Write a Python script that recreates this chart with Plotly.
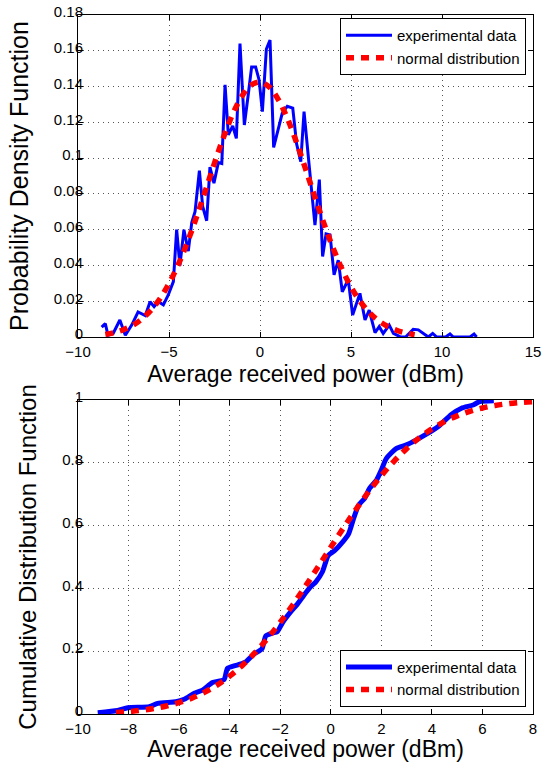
import plotly.graph_objects as go

# ---------------- data ----------------
# Top panel: probability density function
pdf_exp_x = [-8.7, -8.5, -8.35, -8.07, -7.7, -7.4, -7.05, -6.7, -6.3, -6.04, -5.82, -5.59,
             -5.31, -5.04, -4.76, -4.58, -4.4, -4.18, -3.94, -3.75, -3.57, -3.33, -3.15,
             -2.93, -2.75, -2.53, -2.29, -2.1, -1.92, -1.74, -1.5, -1.3, -1.1, -0.86, -0.64,
             -0.46, -0.24, -0.05, 0.13, 0.35, 0.55, 0.75, 1.22, 1.5, 1.8, 2.01, 2.24, 2.42,
             2.71, 2.84, 3.02, 3.26, 3.44, 3.63, 3.85, 4.07, 4.3, 4.52, 4.85, 5.09, 5.49,
             5.77, 6.0, 6.32, 6.55, 6.77, 7.1, 7.33, 7.69, 8.0, 8.42, 8.7, 8.97, 9.25, 9.49,
             9.71, 10.2, 10.44, 10.62, 11.54, 11.76, 11.9]
pdf_exp_y = [0.0055, 0.0075, 0.001, 0.002, 0.0095, 0.001, 0.0067, 0.014, 0.012, 0.0197, 0.017,
             0.0197, 0.018, 0.0235, 0.031, 0.060, 0.040, 0.060, 0.048, 0.064, 0.070, 0.093,
             0.073, 0.065, 0.095, 0.086, 0.0975, 0.097, 0.141, 0.113, 0.118, 0.111, 0.164,
             0.1185, 0.136, 0.151, 0.151, 0.1437, 0.126, 0.161, 0.166, 0.106, 0.125, 0.129,
             0.128, 0.108, 0.098, 0.126, 0.095, 0.082, 0.0626, 0.088, 0.045, 0.0576, 0.057,
             0.0347, 0.043, 0.0253, 0.032, 0.0123, 0.0244, 0.0095, 0.015, 0.0024, 0.0058,
             0.002, 0.0067, 0.002, 0.0002, 0.0, 0.0043, 0.004, 0.002, 0.0, 0.002, 0.0, 0.0,
             0.0017, 0.0, 0.0, 0.0017, 0.0]

pdf_norm_x = [-8.5, -8, -7.5, -7, -6.5, -6, -5.5, -5, -4.5, -4, -3.5, -3, -2.5, -2, -1.5, -1,
              -0.5, 0, 0.5, 1, 1.5, 2, 2.5, 3, 3.5, 4, 4.5, 5, 5.5, 6, 6.5, 7, 7.5, 8, 8.5]
pdf_norm_y = [0.0015, 0.0025, 0.0041, 0.0065, 0.0100, 0.0149, 0.0214, 0.0299, 0.0403, 0.0527,
              0.0667, 0.0818, 0.0972, 0.1118, 0.1246, 0.1345, 0.1407, 0.1425, 0.1398, 0.1328,
              0.1223, 0.1090, 0.0941, 0.0787, 0.0638, 0.0501, 0.0381, 0.0280, 0.0200, 0.0138,
              0.0092, 0.0060, 0.0038, 0.0023, 0.0013]

# Bottom panel: cumulative distribution function
cdf_exp_x = [-9.22, -8.43, -8.03, -7.18, -6.85, -6.13, -5.8, -5.4, -5.07, -4.68, -4.22, -4.09,
             -3.83, -3.4, -3.05, -2.72, -2.57, -2.3, -2.12, -1.9, -1.58, -1.32, -1.05, -0.8,
             -0.59, -0.33, -0.1, 0.15, 0.43, 0.7, 0.9, 1.1, 1.34, 1.54, 1.81, 2.0, 2.2, 2.6,
             2.99, 3.39, 3.78, 4.24, 4.77, 5.17, 5.63, 5.89, 6.45]
cdf_exp_y = [0.004, 0.011, 0.02, 0.023, 0.034, 0.039, 0.047, 0.066, 0.076, 0.10, 0.11, 0.145,
             0.153, 0.164, 0.19, 0.208, 0.249, 0.258, 0.262, 0.292, 0.326, 0.35, 0.38, 0.405,
             0.421, 0.453, 0.505, 0.52, 0.544, 0.573, 0.622, 0.665, 0.687, 0.719, 0.745, 0.777,
             0.814, 0.846, 0.857, 0.873, 0.891, 0.915, 0.954, 0.974, 0.984, 0.995, 0.998]

cdf_norm_x = [-8.5, -8, -7.5, -7, -6.5, -6, -5.5, -5, -4.5, -4, -3.5, -3, -2.5, -2, -1.5, -1,
              -0.5, 0, 0.5, 1, 1.5, 2, 2.5, 3, 3.5, 4, 4.5, 5, 5.5, 6, 6.5, 7, 7.5, 8]
cdf_norm_y = [0.0050, 0.0077, 0.0117, 0.0175, 0.0254, 0.0362, 0.0504, 0.0689, 0.0921, 0.1206,
              0.1548, 0.1951, 0.2410, 0.2922, 0.3479, 0.4074, 0.4689, 0.5311, 0.5926, 0.6521,
              0.7078, 0.7590, 0.8049, 0.8452, 0.8794, 0.9079, 0.9311, 0.9496, 0.9638, 0.9746,
              0.9825, 0.9883, 0.9923, 0.9950]

x_title = "Average received power (dBm)"
y_title_top = "Probability Density Function"
y_title_bottom = "Cumulative Distribution Function"
name_exp = "experimental data"
name_norm = "normal distribution"

# ---------------- figure ----------------
FONT = "Liberation Sans, Arial, Helvetica, sans-serif"
BLUE = "#0000FF"
RED = "#FF0000"
DASH = "8px,7px"

fig = go.Figure()
fig.add_trace(go.Scatter(x=pdf_exp_x, y=pdf_exp_y, mode="lines", name=name_exp,
                         line=dict(color=BLUE, width=3), xaxis="x", yaxis="y", legend="legend"))
fig.add_trace(go.Scatter(x=pdf_norm_x, y=pdf_norm_y, mode="lines", name=name_norm,
                         line=dict(color=RED, width=5.5, dash=DASH, shape="spline"),
                         xaxis="x", yaxis="y", legend="legend"))
fig.add_trace(go.Scatter(x=cdf_exp_x, y=cdf_exp_y, mode="lines", name=name_exp,
                         line=dict(color=BLUE, width=5, shape="spline", smoothing=0.6),
                         xaxis="x2", yaxis="y2", legend="legend2"))
fig.add_trace(go.Scatter(x=cdf_norm_x, y=cdf_norm_y, mode="lines", name=name_norm,
                         line=dict(color=RED, width=5.5, dash=DASH, shape="spline"),
                         xaxis="x2", yaxis="y2", legend="legend2"))

axis_common = dict(
    showline=True, linecolor="black", linewidth=1, mirror="ticks",
    ticks="inside", ticklen=5, tickcolor="black", automargin=False,
    showgrid=True, gridcolor="#555555", gridwidth=1, griddash="1px,4px",
    zeroline=False, tickfont=dict(family=FONT, size=15, color="black"),
)
x_common = dict(ticklabelstandoff=1, **axis_common)
y_common = dict(ticklabelstandoff=-9, ticklabelshift=-3, **axis_common)

legend_common = dict(bgcolor="white", bordercolor="black", borderwidth=1,
                     font=dict(family=FONT, size=15), tracegroupgap=0, itemwidth=46)

fig.update_layout(
    width=543, height=762,
    margin=dict(l=78, r=10, t=15, b=48),
    paper_bgcolor="white", plot_bgcolor="white",
    font=dict(family=FONT, color="black"),
    xaxis=dict(domain=[0, 1], anchor="y", range=[-10, 15], dtick=5, tick0=0,
               title=dict(text=x_title, font=dict(size=23), standoff=6), **x_common),
    yaxis=dict(domain=[0.5393, 1], anchor="x", range=[0, 0.18], dtick=0.02, tick0=0,
               title=dict(text=y_title_top, font=dict(size=25), standoff=18), **y_common),
    xaxis2=dict(domain=[0, 1], anchor="y2", range=[-10, 8], dtick=2, tick0=0,
                title=dict(text=x_title, font=dict(size=23), standoff=6), **x_common),
    yaxis2=dict(domain=[0, 0.4492], anchor="x2", range=[0, 1], dtick=0.2, tick0=0,
                title=dict(text=y_title_bottom, font=dict(size=24), standoff=18), **y_common),
    legend=dict(x=0.9846, y=0.9957, xanchor="right", yanchor="top", **legend_common),
    legend2=dict(x=0.9846, y=0.0104, xanchor="right", yanchor="bottom", **legend_common),
    showlegend=True,
)

fig.write_html(
    "out.html",
    config={"displayModeBar": False},
    post_script="document.body.style.margin='0';document.body.style.padding='0';"
                "document.body.style.overflow='hidden';",
)
